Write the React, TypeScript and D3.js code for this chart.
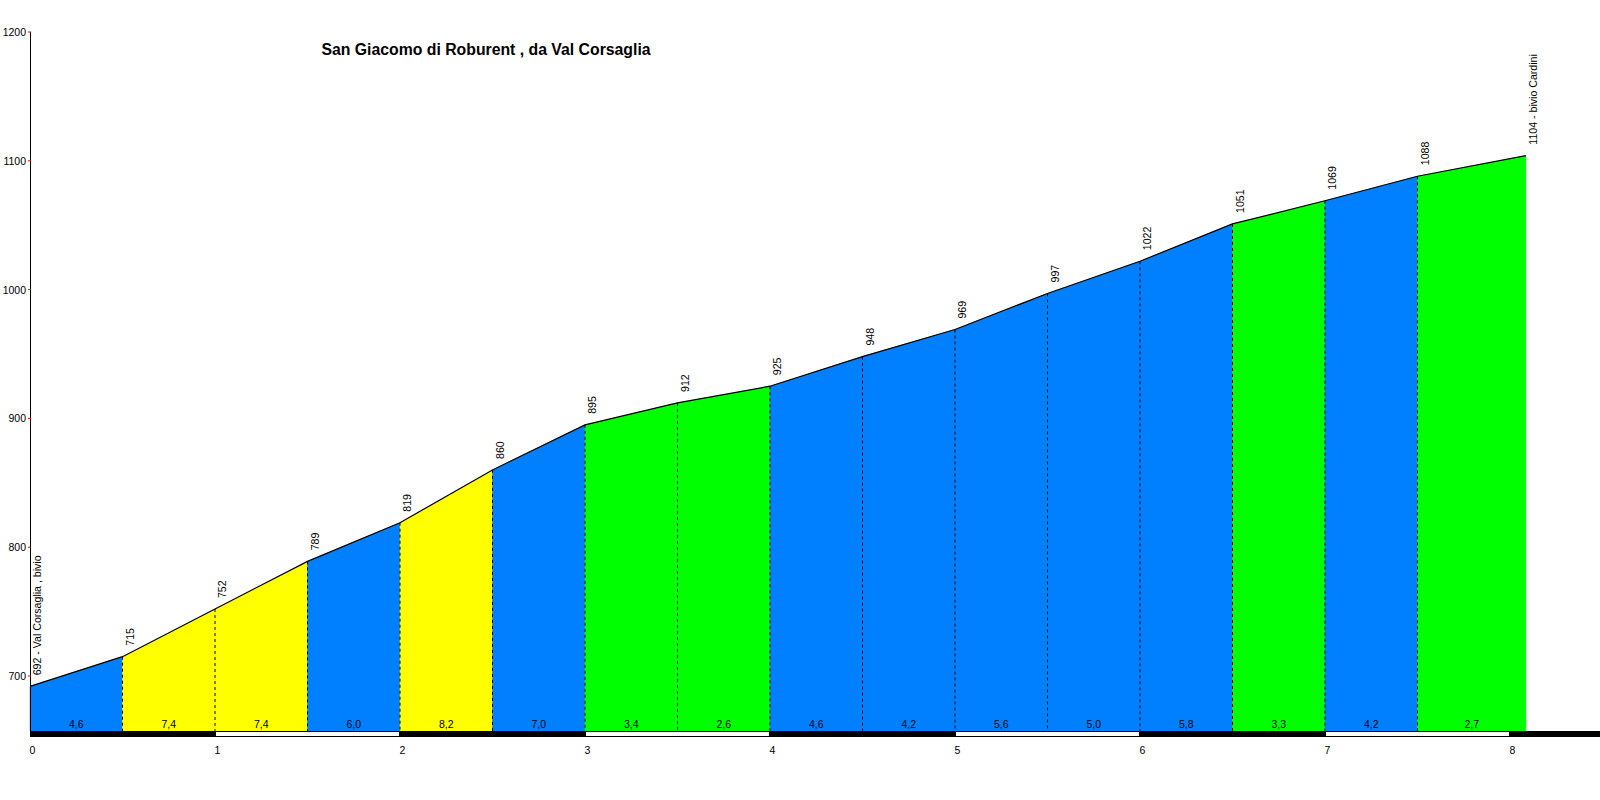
import React from "react";
import * as d3 from "d3";

const title = "San Giacomo di Roburent , da Val Corsaglia";
const distances = [0, 0.5, 1, 1.5, 2, 2.5, 3, 3.5, 4, 4.5, 5, 5.5, 6, 6.5, 7, 7.5, 8.086];
const elevations = [692, 715, 752, 789, 819, 860, 895, 912, 925, 948, 969, 997, 1022, 1051, 1069, 1088, 1104];
const gradients = ["4,6", "7,4", "7,4", "6,0", "8,2", "7,0", "3,4", "2,6", "4,6", "4,2", "5,6", "5,0", "5,8", "3,3", "4,2", "2,7"];
const segColors = ["blue", "yellow", "yellow", "blue", "yellow", "blue", "green", "green", "blue", "blue", "blue", "blue", "blue", "green", "blue", "green"];
const startName = "692 - Val Corsaglia , bivio";
const endName = "1104 - bivio Cardini";
const yTicks = [700, 800, 900, 1000, 1100, 1200];
const xTicks = [0, 1, 2, 3, 4, 5, 6, 7, 8];

const palette: Record<string, string> = { blue: "#0080FF", yellow: "#FFFF00", green: "#00FF00" };

export default function App() {
  const W = 1600, H = 800;
  const x = d3.scaleLinear().domain([0, 8]).range([30, 1510]);
  const y = d3.scaleLinear().domain([700, 1200]).range([676, 32]);
  const baseY = 731;
  const font = "'Liberation Sans', Arial, sans-serif";
  const line = d3.line<number>().x((_, i) => x(distances[i])).y((d) => y(d));

  return (
    <svg width={W} height={H} style={{ position: "absolute", left: 0, top: 0 }} fontFamily={font}>
      <rect width={W} height={H} fill="#fff" />
      {gradients.map((g, i) => {
        const x0 = x(distances[i]), x1 = x(distances[i + 1]);
        const p = `M${x0},${baseY}L${x0},${y(elevations[i])}L${x1},${y(elevations[i + 1])}L${x1},${baseY}Z`;
        return <path key={"s" + i} d={p} fill={palette[segColors[i]]} stroke={palette[segColors[i]]} strokeWidth={0.5} />;
      })}
      {distances.slice(1, -1).map((d, i) => (
        <line key={"d" + i} x1={x(d)} x2={x(d)} y1={y(elevations[i + 1])} y2={baseY} stroke="#000" strokeDasharray="3,3" strokeWidth={1} />
      ))}
      <path d={line(elevations) || ""} fill="none" stroke="#000" strokeWidth={1.2} />
      {gradients.map((g, i) => (
        <text key={"g" + i} x={(x(distances[i]) + x(distances[i + 1])) / 2} y={728} textAnchor="middle" fontSize={10.5} fill="#000">{g}</text>
      ))}
      <rect x={30} y={baseY} width={W - 30} height={6} fill="#000" />
      {xTicks.slice(0, -1).filter((k) => k % 2 === 1).map((k) => (
        <rect key={"w" + k} x={x(k) + 1} y={baseY + 1} width={x(k + 1) - x(k) - 2} height={4} fill="#fff" />
      ))}
      {xTicks.map((k) => (
        <text key={"xt" + k} x={x(k) + 2.5} y={754} textAnchor="middle" fontSize={10.5} fill="#000">{k}</text>
      ))}
      <line x1={30.5} x2={30.5} y1={y(1200)} y2={baseY} stroke="#000" strokeWidth={1} />
      {yTicks.map((t) => (
        <g key={"yt" + t}>
          <line x1={28} x2={31} y1={y(t)} y2={y(t)} stroke="#e00" strokeWidth={1} />
          <text x={26} y={y(t) + 4} textAnchor="end" fontSize={10.5} fill="#000">{t}</text>
        </g>
      ))}
      {elevations.map((e, i) => {
        const label = i === 0 ? startName : i === elevations.length - 1 ? endName : String(e);
        const tx = x(distances[i]) + 11, ty = y(e) - 11;
        return (
          <text key={"e" + i} transform={`translate(${tx},${ty}) rotate(-90)`} fontSize={10.6} fill="#000">{label}</text>
        );
      })}
      <text x={486} y={55} textAnchor="middle" fontSize={15.8} fontWeight="bold" fill="#000">{title}</text>
    </svg>
  );
}
